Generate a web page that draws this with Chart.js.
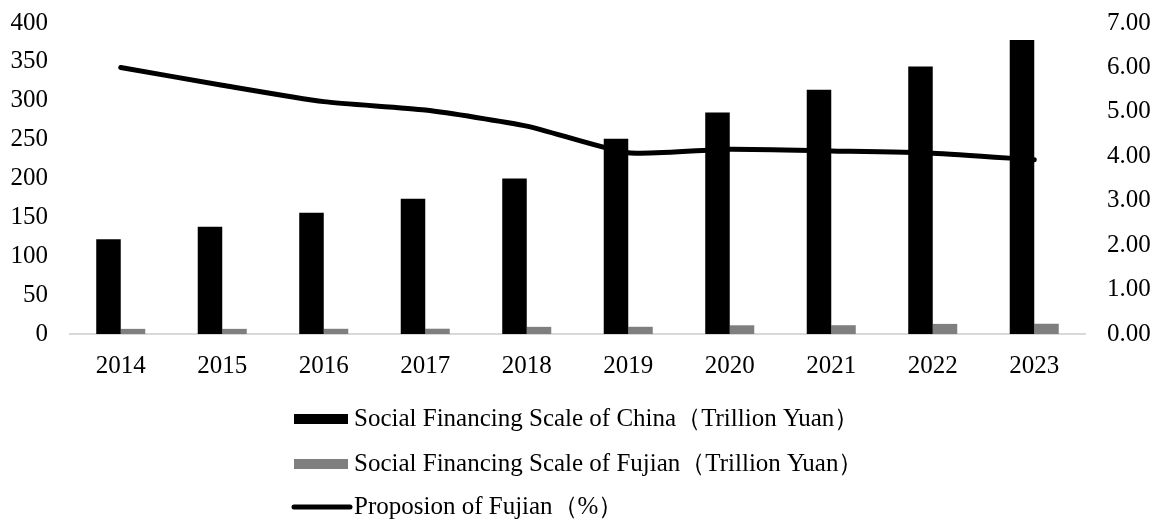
<!DOCTYPE html>
<html>
<head>
<meta charset="utf-8">
<script src="https://cdn.jsdelivr.net/npm/chart.js@4/dist/chart.umd.min.js"></script>
<style>
  html, body { margin: 0; padding: 0; background: #fff; }
  #wrap { width: 1159px; height: 522px; }
</style>
</head>
<body>
<div id="wrap"><canvas id="chart" width="1159" height="522"></canvas></div>
<script>
var years = ["2014", "2015", "2016", "2017", "2018", "2019", "2020", "2021", "2022", "2023"];
var chinaScale = [122, 138, 156, 174, 200, 251, 285, 314, 344, 378];
var fujianScale = [6.6, 6.6, 6.7, 6.8, 9.2, 9.3, 11.2, 11.3, 13.0, 13.2];
var fujianShare = [6.00, 5.60, 5.23, 5.04, 4.68, 4.08, 4.16, 4.12, 4.07, 3.92];

var FONT = "'Liberation Serif', 'Times New Roman', serif";
var tickFont = { family: FONT, size: 25 };

// legend stacked under the plot, one row per series
var stackedLegend = {
  id: "stackedLegend",
  afterDraw: function(chart) {
    var ctx = chart.ctx;
    var rows = [419, 464, 507];
    var order = [1, 2, 0];
    ctx.save();
    ctx.font = "25px " + FONT;
    ctx.textBaseline = "middle";
    order.forEach(function(idx, i) {
      var ds = chart.data.datasets[idx];
      var y = rows[i];
      if (ds.type === "line") {
        ctx.strokeStyle = ds.borderColor;
        ctx.lineWidth = 5;
        ctx.lineCap = "round";
        ctx.beginPath();
        ctx.moveTo(294, y);
        ctx.lineTo(350, y);
        ctx.stroke();
      } else {
        ctx.fillStyle = ds.backgroundColor;
        ctx.fillRect(294, y - 5, 54, 10);
      }
      ctx.fillStyle = "#000";
      ctx.fillText(ds.label, 354, y);
    });
    ctx.restore();
  }
};

function fixWidth(w) {
  return function(s) {
    s.width = w;
    s.paddingTop = 0;
    s.paddingBottom = 0;
  };
}

new Chart(document.getElementById("chart"), {
  data: {
    labels: years,
    datasets: [
      {
        type: "line",
        label: "Proposion of Fujian（%）",
        data: fujianShare,
        yAxisID: "y1",
        borderColor: "#000",
        borderWidth: 5,
        borderCapStyle: "round",
        borderJoinStyle: "round",
        tension: 0.2,
        pointRadius: 0,
        fill: false
      },
      {
        type: "bar",
        label: "Social Financing Scale of China（Trillion Yuan）",
        data: chinaScale,
        yAxisID: "y",
        backgroundColor: "#000",
        categoryPercentage: 0.483,
        barPercentage: 1.0
      },
      {
        type: "bar",
        label: "Social Financing Scale of Fujian（Trillion Yuan）",
        data: fujianScale,
        yAxisID: "y",
        backgroundColor: "#7f7f7f",
        categoryPercentage: 0.483,
        barPercentage: 1.0
      }
    ]
  },
  options: {
    responsive: false,
    animation: false,
    layout: { padding: { top: 23, bottom: 138, left: 0, right: 0 } },
    plugins: {
      legend: { display: false },
      tooltip: { enabled: false }
    },
    scales: {
      x: {
        grid: { display: false, drawTicks: false },
        border: { display: true, color: "#d9d9d9", width: 2 },
        ticks: { font: tickFont, color: "#000", padding: 17, maxRotation: 0 },
        afterFit: function(s) {
          s.height = 50;
          s.paddingLeft = 0;
          s.paddingRight = 0;
        }
      },
      y: {
        position: "left",
        min: 0,
        max: 400,
        grid: { display: false, drawTicks: false },
        border: { display: false },
        ticks: { stepSize: 50, font: tickFont, color: "#000", padding: 22 },
        afterFit: fixWidth(70)
      },
      y1: {
        position: "right",
        min: 0,
        max: 7,
        grid: { display: false, drawTicks: false },
        border: { display: false },
        ticks: {
          stepSize: 1,
          font: tickFont,
          color: "#000",
          padding: 22,
          callback: function(v) { return v.toFixed(2); }
        },
        afterFit: fixWidth(74)
      }
    }
  },
  plugins: [stackedLegend]
});
</script>
</body>
</html>
